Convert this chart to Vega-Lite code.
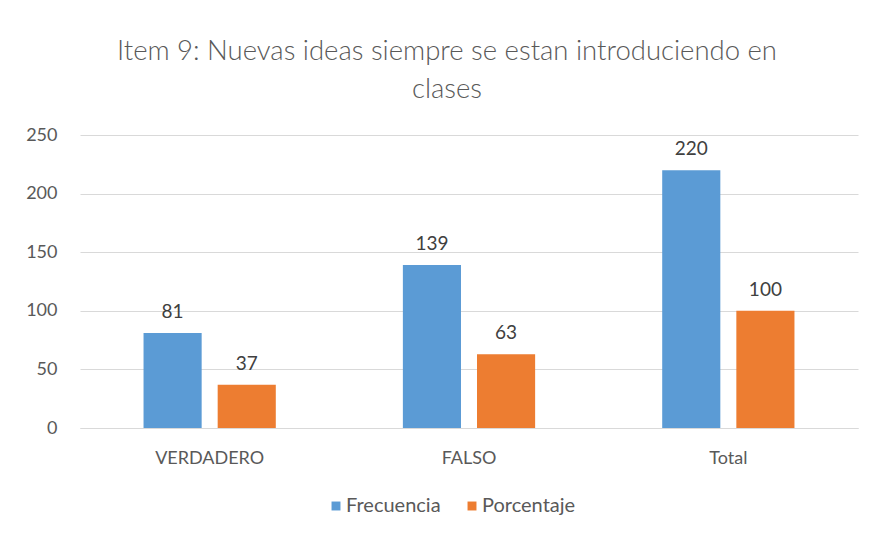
{
  "$schema": "https://vega.github.io/schema/vega-lite/v6.json",
  "autosize": {"type": "none"},
  "width": 778,
  "height": 293,
  "padding": {"left": 80, "top": 135, "right": 19, "bottom": 110},
  "background": "white",
  "title": {
    "text": ["Item 9: Nuevas ideas siempre se estan introduciendo en", "clases"],
    "font": "Lato",
    "fontSize": 27.5,
    "fontWeight": 300,
    "color": "#595959",
    "anchor": "middle",
    "dx": -22,
    "offset": 23,
    "lineHeight": 38
  },
  "config": {
    "view": {"stroke": null},
    "font": "Lato"
  },
  "data": {
    "values": [
      {"categoria": "VERDADERO", "serie": "Frecuencia", "valor": 81},
      {"categoria": "VERDADERO", "serie": "Porcentaje", "valor": 37},
      {"categoria": "FALSO", "serie": "Frecuencia", "valor": 139},
      {"categoria": "FALSO", "serie": "Porcentaje", "valor": 63},
      {"categoria": "Total", "serie": "Frecuencia", "valor": 220},
      {"categoria": "Total", "serie": "Porcentaje", "valor": 100}
    ]
  },
  "encoding": {
    "x": {
      "field": "categoria",
      "type": "nominal",
      "sort": ["VERDADERO", "FALSO", "Total"],
      "scale": {"paddingInner": 0.49, "paddingOuter": 0.245},
      "axis": {
        "title": null,
        "labelAngle": 0,
        "labelFont": "Lato",
        "labelFontSize": 18,
        "labelColor": "#595959",
        "labelPadding": 21,
        "ticks": false,
        "domainColor": "#d9d9d9",
        "domainWidth": 1
      }
    },
    "xOffset": {
      "field": "serie",
      "type": "nominal",
      "scale": {"paddingInner": 0.216, "paddingOuter": 0}
    },
    "y": {
      "field": "valor",
      "type": "quantitative",
      "scale": {"domain": [0, 250]},
      "axis": {
        "title": null,
        "values": [0, 50, 100, 150, 200, 250],
        "domain": false,
        "ticks": false,
        "labelFont": "Lato",
        "labelFontSize": 18,
        "labelColor": "#595959",
        "labelPadding": 23,
        "gridColor": "#d9d9d9",
        "gridWidth": 1
      }
    }
  },
  "layer": [
    {
      "mark": {"type": "bar"},
      "encoding": {
        "color": {
          "field": "serie",
          "type": "nominal",
          "scale": {"domain": ["Frecuencia", "Porcentaje"], "range": ["#5b9bd5", "#ed7d31"]},
          "legend": {
            "title": null,
            "orient": "none",
            "legendX": 246,
            "legendY": 361,
            "direction": "horizontal",
            "symbolType": "square",
            "symbolSize": 80,
            "symbolStrokeWidth": 0,
            "labelFont": "Lato",
            "labelFontSize": 20,
            "labelColor": "#595959",
            "columnPadding": 21,
            "labelOffset": 0
          }
        }
      }
    },
    {
      "mark": {"type": "text", "baseline": "bottom", "dy": -11, "font": "Lato", "fontSize": 19, "color": "#404040"},
      "encoding": {
        "text": {"field": "valor", "type": "quantitative"}
      }
    }
  ]
}
